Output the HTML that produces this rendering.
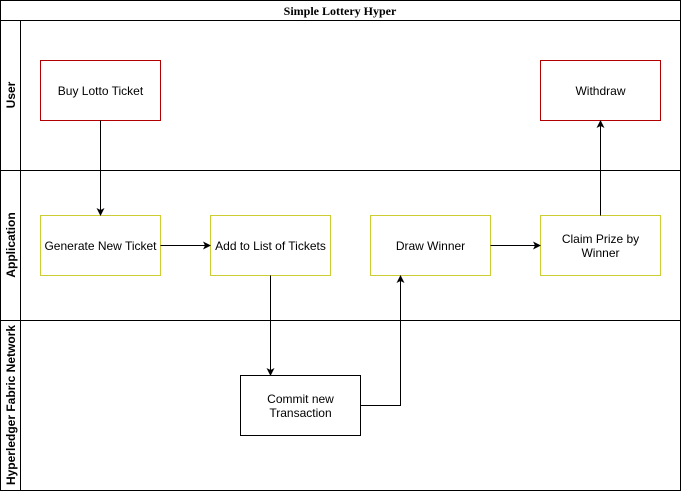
<!DOCTYPE html>
<html><head><meta charset="utf-8"><style>
html,body{margin:0;padding:0;background:#fff;width:681px;height:491px;overflow:hidden}
</style></head><body>
<svg width="681" height="491" xmlns="http://www.w3.org/2000/svg" font-family="Liberation Sans, sans-serif" font-size="12">
<defs><marker id="a" markerWidth="8" markerHeight="8" refX="7" refY="4" orient="auto" markerUnits="userSpaceOnUse"><path d="M0,0 L8,4 L0,8 L2,4 Z" fill="#000"/></marker></defs>
<g fill="none" stroke="#000" stroke-width="1">
<rect x="0.5" y="0.5" width="680" height="490"/>
<line x1="0.5" y1="20.5" x2="680.5" y2="20.5"/>
<line x1="0.5" y1="170.5" x2="680.5" y2="170.5"/>
<line x1="0.5" y1="320.5" x2="680.5" y2="320.5"/>
<line x1="20.5" y1="20.5" x2="20.5" y2="490.5"/>
</g>
<text x="340" y="15" text-anchor="middle" font-family="Liberation Serif, serif" font-weight="bold" font-size="12">Simple Lottery Hyper</text>
<g font-weight="bold" text-anchor="middle">
<text transform="translate(15,95) rotate(-90)">User</text>
<text transform="translate(15,245) rotate(-90)">Application</text>
<text transform="translate(15,405) rotate(-90)">Hyperledger Fabric Network</text>
</g>
<g fill="#fff" stroke-width="1">
<rect x="40.5" y="60.5" width="120" height="60" stroke="#b20000"/>
<rect x="540.5" y="60.5" width="120" height="60" stroke="#b20000"/>
<rect x="40.5" y="215.5" width="120" height="60" stroke="#cccc33"/>
<rect x="210.5" y="215.5" width="120" height="60" stroke="#cccc33"/>
<rect x="370.5" y="215.5" width="120" height="60" stroke="#cccc33"/>
<rect x="540.5" y="215.5" width="120" height="60" stroke="#cccc33"/>
<rect x="240.5" y="375.5" width="120" height="60" stroke="#000"/>
</g>
<g text-anchor="middle" fill="#000">
<text x="100.5" y="95">Buy Lotto Ticket</text>
<text x="600.5" y="95">Withdraw</text>
<text x="100.5" y="250">Generate New Ticket</text>
<text x="270.5" y="250">Add to List of Tickets</text>
<text x="430.5" y="250">Draw Winner</text>
<text x="600.5" y="243">Claim Prize by</text>
<text x="600.5" y="257">Winner</text>
<text x="300.5" y="403">Commit new</text>
<text x="300.5" y="417">Transaction</text>
</g>
<g stroke="#000" fill="none" marker-end="url(#a)">
<path d="M100.5,120.5 V215"/>
<path d="M160.5,245.5 H210"/>
<path d="M490.5,245.5 H540"/>
<path d="M600.5,215.5 V121"/>
<path d="M270.5,275.5 V375"/>
<path d="M360.5,405.5 H400.5 V276"/>
</g>
</svg>
</body></html>
